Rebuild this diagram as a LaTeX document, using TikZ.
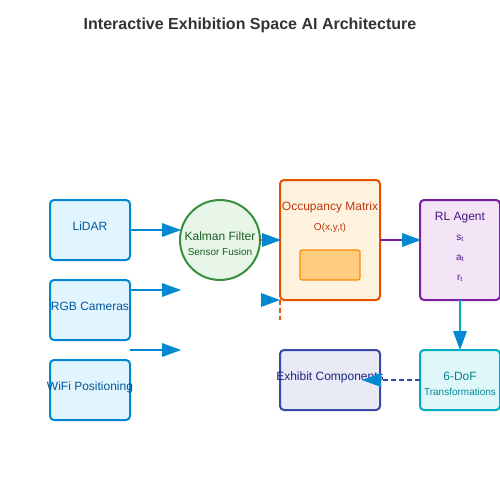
\documentclass[tikz,border=0pt]{standalone}
\usepackage{fontspec}
\setmainfont{Liberation Sans}
\usetikzlibrary{arrows.meta}
\definecolor{titlec}{HTML}{333333}
\definecolor{sensfill}{HTML}{E1F5FE}
\definecolor{sensdraw}{HTML}{0288D1}
\definecolor{senstext}{HTML}{01579B}
\definecolor{kfill}{HTML}{E8F5E9}
\definecolor{kdraw}{HTML}{388E3C}
\definecolor{ktext}{HTML}{1B5E20}
\definecolor{ofill}{HTML}{FFF3E0}
\definecolor{odraw}{HTML}{E65100}
\definecolor{otext}{HTML}{BF360C}
\definecolor{ifill}{HTML}{FFCC80}
\definecolor{idraw}{HTML}{FB8C00}
\definecolor{rfill}{HTML}{F3E5F5}
\definecolor{rdraw}{HTML}{7B1FA2}
\definecolor{rtext}{HTML}{4A148C}
\definecolor{dfill}{HTML}{E0F7FA}
\definecolor{ddraw}{HTML}{00ACC1}
\definecolor{dtext}{HTML}{00838F}
\definecolor{efill}{HTML}{E8EAF6}
\definecolor{edraw}{HTML}{3949AB}
\definecolor{etext}{HTML}{1A237E}
\definecolor{arrowblue}{HTML}{0288D1}
\begin{document}
\begin{tikzpicture}[x=1pt,y=-1pt,
  box/.style={rectangle,rounded corners=4pt,line width=2pt,inner sep=0pt,outer sep=0pt},
  lbl/.style={anchor=base,inner sep=0pt,font=\fontsize{12}{14}\selectfont},
  sub/.style={anchor=base,inner sep=0pt,font=\fontsize{10}{12}\selectfont},
  arr/.style={line width=2pt,-{Triangle[length=19pt,width=14pt,color=arrowblue,line width=0pt]}}]
\useasboundingbox (0,0) rectangle (500,500);
\node[anchor=base,inner sep=0pt,text=titlec,font=\fontsize{16}{19}\bfseries] (title) at (250,30) {Interactive Exhibition Space AI Architecture};
% sensors
\node[box,fill=sensfill,draw=sensdraw,minimum width=80pt,minimum height=60pt] (lidar) at (90,230) {};
\node[box,fill=sensfill,draw=sensdraw,minimum width=80pt,minimum height=60pt] (rgb) at (90,310) {};
\node[box,fill=sensfill,draw=sensdraw,minimum width=80pt,minimum height=60pt] (wifi) at (90,390) {};
\node[lbl,text=senstext] (lidart) at (90,230) {LiDAR};
\node[lbl,text=senstext] (rgbt) at (90,310) {RGB Cameras};
\node[lbl,text=senstext] (wifit) at (90,390) {WiFi Positioning};
% kalman
\node[circle,fill=kfill,draw=kdraw,line width=2pt,minimum size=80pt,inner sep=0pt,outer sep=0pt] (kal) at (220,240) {};
\node[lbl,text=ktext] (kalt) at (220,240) {Kalman Filter};
\node[sub,text=ktext] (kals) at (220,255) {Sensor Fusion};
% occupancy
\node[box,fill=ofill,draw=odraw,minimum width=100pt,minimum height=120pt] (occ) at (330,240) {};
\node[lbl,text=otext] (occt) at (330,210) {Occupancy Matrix};
\node[sub,text=otext] (occs) at (330,230) {O(x,y,t)};
\node[rectangle,rounded corners=2pt,fill=ifill,draw=idraw,line width=1.2pt,minimum width=60pt,minimum height=30pt,inner sep=0pt] (grid) at (330,265) {};
% RL agent
\node[box,fill=rfill,draw=rdraw,minimum width=80pt,minimum height=100pt] (rl) at (460,250) {};
\node[lbl,text=rtext] (rlt) at (460,220) {RL Agent};
\node[sub,text=rtext] (rls) at (460,240) {s\textsubscript{t}};
\node[sub,text=rtext] (rla) at (460,260) {a\textsubscript{t}};
\node[sub,text=rtext] (rlr) at (460,280) {r\textsubscript{t}};
% 6-DoF
\node[box,fill=dfill,draw=ddraw,minimum width=80pt,minimum height=60pt] (dof) at (460,380) {};
\node[lbl,text=dtext] (doft) at (460,380) {6-DoF};
\node[sub,text=dtext!80!ddraw] (dofs) at (460,395) {Transformations};
% exhibit
\node[box,fill=efill,draw=edraw,minimum width=100pt,minimum height=60pt] (exh) at (330,380) {};
\node[lbl,text=etext] (exht) at (330,380) {Exhibit Components};
% coordinates
\coordinate (l1) at (130,230);
\coordinate (l1e) at (181,230);
\coordinate (r1) at (130,290);
\coordinate (r1e) at (181,290);
\coordinate (w1) at (130,350);
\coordinate (w1e) at (181,350);
\coordinate (kin) at (281,240);
\coordinate (c300) at (261,300);
\coordinate (occsw) at (280,300);
\coordinate (odash) at (280,320);
\coordinate (rlin) at (421,240);
\coordinate (exin) at (362,380);
% connectors
\draw[arr,draw=sensdraw] (l1) -- (l1e);
\draw[arr,draw=sensdraw] (r1) -- (r1e);
\draw[arr,draw=sensdraw] (w1) -- (w1e);
\draw[arr,draw=odraw] (kal.east) -- (kin);
\draw[arr,draw=sensdraw] (c300) -- (occsw);
\draw[line width=2pt,draw=odraw,dash pattern=on 5pt off 3pt] (occsw) -- (odash);
\draw[arr,draw=rdraw] (occ.east) -- (rlin);
\draw[arr,draw=ddraw] (rl.south) -- (dof.north);
\draw[arr,draw=edraw,dash pattern=on 5pt off 3pt] (dof.west) -- (exin);
\end{tikzpicture}
\end{document}
